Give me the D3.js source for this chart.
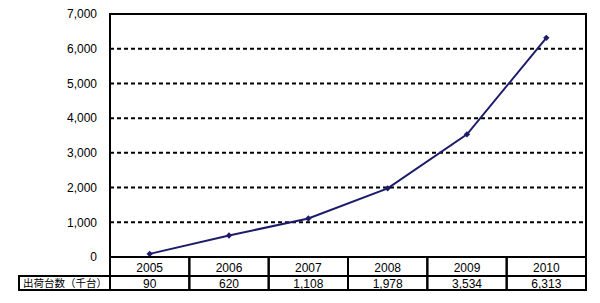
<!DOCTYPE html>
<html>
<head>
<meta charset="utf-8">
<script src="https://cdn.jsdelivr.net/npm/d3@7"></script>
<style>
body { margin: 0; background: #fff; }
text { font-family: "Liberation Sans", Arial, sans-serif; }
</style>
</head>
<body>
<div class="chart"></div>
<script>
var years = ["2005", "2006", "2007", "2008", "2009", "2010"];
var shipments = [90, 620, 1108, 1978, 3534, 6313];
var yTicks = [0, 1000, 2000, 3000, 4000, 5000, 6000, 7000];
var rowLabel = "出荷台数（千台）";

var margin = {top: 14, right: 14, bottom: 46, left: 110},
width = 600 - margin.left - margin.right,
height = 303 - margin.top - margin.bottom;

var svg = d3.select(".chart").append("svg")
    .attr("width", 600)
    .attr("height", 303)
    .append("g")
    .attr("transform", "translate(" + margin.left + "," + margin.top + ")");

var xScale = d3.scaleBand()
    .domain(years)
    .range([0, width]);

var yScale = d3.scaleLinear()
    .domain([0, 7000])
    .range([height, 0]);

// dashed gridlines
svg.selectAll(".grid")
  .data(yTicks.filter(function(d) { return d > 0 && d < 7000; }))
  .enter().append("line")
    .attr("class", "grid")
    .attr("x1", 0)
    .attr("x2", width)
    .attr("y1", function(d) { return yScale(d); })
    .attr("y2", function(d) { return yScale(d); })
    .attr("stroke", "#000")
    .attr("stroke-width", 2)
    .attr("stroke-dasharray", "4,3");

var yAxis = d3.axisLeft(yScale)
    .tickValues(yTicks)
    .tickSize(0)
    .tickPadding(13)
    .tickFormat(d3.format(","));

svg.append("g")
    .call(yAxis)
    .call(function(g) { g.select(".domain").remove(); })
    .selectAll("text")
    .attr("font-size", 12)
    .attr("fill", "#000")
    .style("font-family", "Liberation Sans, Arial, sans-serif");

// plot frame
svg.append("rect")
    .attr("x", 0)
    .attr("y", 0)
    .attr("width", width)
    .attr("height", height)
    .attr("fill", "none")
    .attr("stroke", "#000")
    .attr("stroke-width", 2);

var line = d3.line()
    .x(function(d, i) { return xScale(years[i]) + xScale.bandwidth() / 2; })
    .y(function(d) { return yScale(d); });

svg.append("path")
    .datum(shipments)
    .attr("d", line)
    .attr("fill", "none")
    .attr("stroke", "#1c1c6b")
    .attr("stroke-width", 2);

svg.selectAll(".dot")
  .data(shipments)
  .enter().append("path")
    .attr("class", "dot")
    .attr("d", d3.symbol().type(d3.symbolSquare).size(20))
    .attr("transform", function(d, i) {
      return "translate(" + (xScale(years[i]) + xScale.bandwidth() / 2) + "," + yScale(d) + ") rotate(45)";
    })
    .attr("fill", "#1c1c6b");

// data table under the chart
var row1 = 19, row2 = 14, labelLeft = 19 - margin.left;
var table = svg.append("g").attr("transform", "translate(0," + height + ")");

table.selectAll(".cell1")
  .data(years)
  .enter().append("rect")
    .attr("x", function(d) { return xScale(d); })
    .attr("y", 0)
    .attr("width", xScale.bandwidth())
    .attr("height", row1)
    .attr("fill", "none")
    .attr("stroke", "#000")
    .attr("stroke-width", 2);

table.selectAll(".cell2")
  .data(years)
  .enter().append("rect")
    .attr("x", function(d) { return xScale(d); })
    .attr("y", row1)
    .attr("width", xScale.bandwidth())
    .attr("height", row2)
    .attr("fill", "none")
    .attr("stroke", "#000")
    .attr("stroke-width", 2);

table.append("rect")
    .attr("x", labelLeft)
    .attr("y", row1)
    .attr("width", -labelLeft)
    .attr("height", row2)
    .attr("fill", "none")
    .attr("stroke", "#000")
    .attr("stroke-width", 2);

table.selectAll(".yr")
  .data(years)
  .enter().append("text")
    .attr("x", function(d) { return xScale(d) + xScale.bandwidth() / 2; })
    .attr("y", row1 / 2 + 5)
    .attr("text-anchor", "middle")
    .attr("font-size", 12)
    .text(function(d) { return d; });

table.selectAll(".val")
  .data(shipments)
  .enter().append("text")
    .attr("x", function(d, i) { return xScale(years[i]) + xScale.bandwidth() / 2; })
    .attr("y", row1 + row2 / 2 + 4.5)
    .attr("text-anchor", "middle")
    .attr("font-size", 12)
    .text(function(d) { return d3.format(",")(d); });

table.append("text")
    .attr("x", labelLeft + 4)
    .attr("y", row1 + row2 / 2 + 3.5)
    .attr("font-size", 10.5)
    .style("font-family", "Noto Sans CJK JP, sans-serif")
    .text(rowLabel);
</script>
</body>
</html>
